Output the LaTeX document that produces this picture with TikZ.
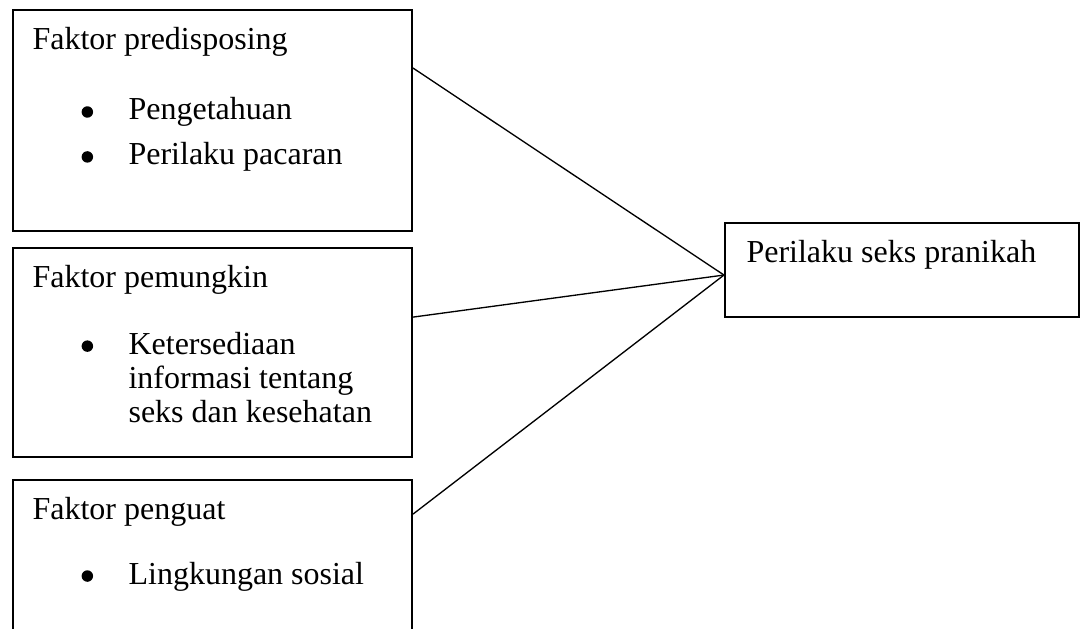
\documentclass[tikz,border=0pt]{standalone}
\usepackage{fontspec}
\setmainfont{Liberation Serif}
\usetikzlibrary{positioning}
% bullet and hanging indent for the factor lists
\newcommand{\bul}{\makebox[36pt][l]{\hspace*{18.4pt}\tikz[baseline=0pt]\fill (2.15pt,3pt) circle (2.15pt);}}
\newcommand{\hang}{\hspace*{36pt}}

\begin{document}
\begin{tikzpicture}[
	% plain rectangles for the factors
	factor/.style={
			rectangle,
			draw=black,
			line width=0.75pt,
			minimum width=5.259cm,
			inner sep=0pt
		},
	outcome/.style={
			rectangle,
			draw=black,
			line width=0.75pt,
			minimum width=4.666cm,
			minimum height=1.239cm,
			inner sep=0pt
		},
	boxtext/.style={
			anchor=base west,
			inner sep=0pt,
			font=\fontsize{12}{12.75}\selectfont
		},
	link/.style={
			line width=0.5pt,
			color=black
		}
	]

	\useasboundingbox (0,0) rectangle (14.313,-8.277);

	% Factor boxes, stacked on the left
	\node[factor, minimum height=2.913cm, anchor=north west] (predisposing) at (0.158,-0.119) {};
	\node[factor, minimum height=2.755cm, below=0.198cm of predisposing] (enabling) {};
	\node[factor, minimum height=2.307cm, below=0.277cm of enabling] (reinforcing) {};

	% Outcome box on the right
	\node[outcome] (behaviour) at (11.888,-3.559) {};

	% Box texts
	\node[boxtext] (predtext) at ([xshift=0.264cm, yshift=-0.540cm]predisposing.north west) {%
		\begin{tabular}[t]{@{}l@{}}
			Faktor predisposing\\[13.5pt]
			\bul Pengetahuan\\[4.1pt]
			\bul Perilaku pacaran
		\end{tabular}};
	\node[boxtext] (enabtext) at ([xshift=0.264cm, yshift=-0.527cm]enabling.north west) {%
		\begin{tabular}[t]{@{}l@{}}
			Faktor pemungkin\\[12.4pt]
			\bul Ketersediaan\\
			\hang informasi tentang\\
			\hang seks dan kesehatan
		\end{tabular}};
	\node[boxtext] (reintext) at ([xshift=0.264cm, yshift=-0.527cm]reinforcing.north west) {%
		\begin{tabular}[t]{@{}l@{}}
			Faktor penguat\\[11.6pt]
			\bul Lingkungan sosial
		\end{tabular}};
	\node[boxtext] (behavtext) at ([xshift=0.290cm, yshift=-0.527cm]behaviour.north west) {Perilaku seks pranikah};

	% Lines from the factors to the outcome
	\draw[link] ([yshift=-0.778cm]predisposing.north east) -- ([yshift=-0.066cm]behaviour.west);
	\draw[link] ([yshift=-0.923cm]enabling.north east) -- ([yshift=-0.066cm]behaviour.west);
	\draw[link] ([yshift=-0.461cm]reinforcing.north east) -- ([yshift=-0.066cm]behaviour.west);

\end{tikzpicture}
\end{document}
